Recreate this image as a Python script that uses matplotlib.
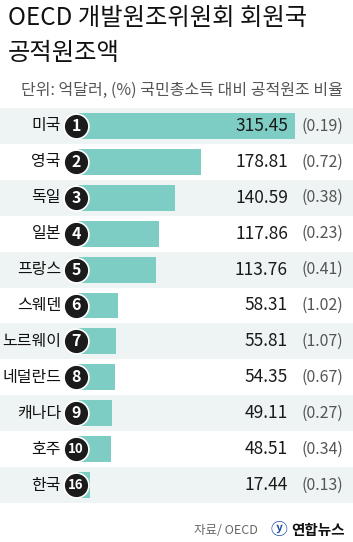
import numpy as np
import matplotlib
matplotlib.use("Agg")
import matplotlib.pyplot as plt
from matplotlib.transforms import blended_transform_factory

plt.rcParams['font.family'] = ['Noto Sans CJK KR', 'DejaVu Sans']

# data
countries = ["미국", "영국", "독일", "일본", "프랑스", "스웨덴", "노르웨이",
             "네덜란드", "캐나다", "호주", "한국"]
ranks = ["1", "2", "3", "4", "5", "6", "7", "8", "9", "10", "16"]
amounts = [315.45, 178.81, 140.59, 117.86, 113.76, 58.31, 55.81,
           54.35, 49.11, 48.51, 17.44]
ratios = [0.19, 0.72, 0.38, 0.23, 0.41, 1.02, 1.07, 0.67, 0.27, 0.34, 0.13]

W, H = 353, 542
teal = "#7ecdc4"
band = "#eef4f3"

fig = plt.figure(figsize=(W / 100, H / 100), dpi=100)
fig.patch.set_facecolor("white")

# chart area (pixels from top: 108 -> 503), bars start at x=78 px
top, bottom = 108, 503
ax = fig.add_axes([0, (H - bottom) / H, 1, (bottom - top) / H])
k = max(amounts) / 217.0          # data units per pixel
x0 = 78
ax.set_xlim(-x0 * k, (W - x0) * k)
n = len(countries)
y = np.arange(n)
ax.set_ylim(n - 0.5, -0.5)
ax.axis("off")

for i in y:
    if i % 2 == 0:
        ax.axhspan(i - 0.5, i + 0.5, color=band, zorder=0, lw=0)

ax.barh(y, amounts, height=0.72, color=teal, zorder=1)

# rank circles
ax.scatter(np.full(n, -2 * k), y, s=320, c="#1b1b1b", edgecolors="white",
           linewidths=1.2, zorder=3)

tr = blended_transform_factory(fig.transFigure, ax.transData)
for i in y:
    ax.text(61 / W, i, countries[i], transform=tr, ha="right", va="center",
            fontsize=11.5, color="#111111")
    fs = 11.5 if len(ranks[i]) == 1 else 9.5
    ax.text((x0 - 2) / W, i, ranks[i], transform=tr, ha="center", va="center",
            fontsize=fs, color="white", fontweight="bold", zorder=4)
    ax.text(288 / W, i, f"{amounts[i]:.2f}", transform=tr, ha="right",
            va="center", fontsize=12.5, color="#1a1a1a", zorder=4)
    ax.text(343 / W, i, f"({ratios[i]:.2f})", transform=tr, ha="right",
            va="center", fontsize=11.5, color="#555555", zorder=4)

# titles
fig.text(8 / W, 1 - 18 / H, "OECD 개발원조위원회 회원국", ha="left", va="center",
         fontsize=17.5, color="#111111")
fig.text(8 / W, 1 - 53 / H, "공적원조액", ha="left", va="center",
         fontsize=17.5, color="#111111")
fig.text(343 / W, 1 - 90 / H, "단위: 억달러, (%) 국민총소득 대비 공적원조 비율",
         ha="right", va="center", fontsize=11.5, color="#555555")

# footer
fig.text(258 / W, 1 - 530 / H, "자료/ OECD", ha="right", va="center",
         fontsize=9, color="#666666")
fig.text(279 / W, 1 - 530 / H, "ⓨ", ha="center", va="center",
         fontsize=12, color="#1f4fa8", fontweight="bold")
fig.text(345 / W, 1 - 530 / H, "연합뉴스", ha="right", va="center",
         fontsize=10.5, color="#111111", fontweight="bold")

fig.savefig("out.png", dpi=100)
